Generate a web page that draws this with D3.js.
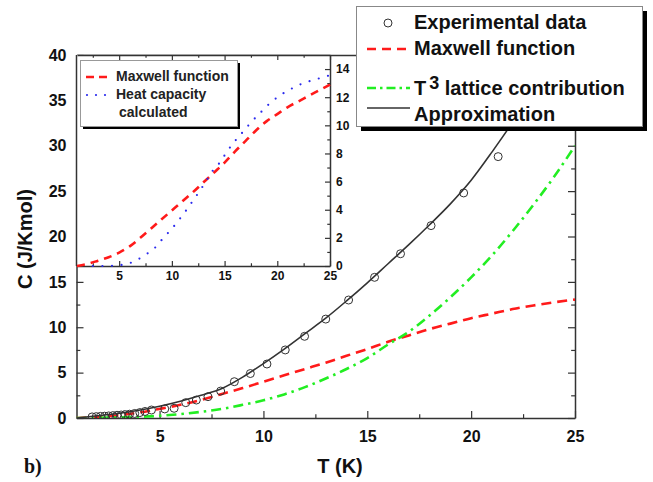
<!DOCTYPE html>
<html><head><meta charset="utf-8">
<script src="https://cdn.jsdelivr.net/npm/d3@7"></script>
<style>
body{margin:0;background:#fff;}
svg{display:block;font-family:"Liberation Sans",Arial,sans-serif;font-weight:bold;}
</style></head>
<body><svg id="c" width="653" height="482"></svg>
<script>
// ---------- data ----------
const tGrid = [1,2,3,4,5,6,7,8,9,10,11,12,13,14,15,16,17,18,19,20,21,22,23,24,25];
const maxwellMain = [0,0.1,0.3,0.6,1.0,1.45,2.0,2.65,3.3,4.0,4.7,5.4,6.1,6.85,7.6,8.4,9.1,9.8,10.4,11.0,11.5,12.0,12.4,12.75,13.05];
const latticeT3 = [0,0.02,0.06,0.13,0.25,0.43,0.68,1.0,1.45,1.95,2.6,3.4,4.35,5.4,6.6,8.1,9.5,11.3,13.3,15.5,17.9,20.6,23.5,26.6,30.0];
const approximation = [0,0.25,0.5,0.85,1.3,1.85,2.5,3.25,4.5,6.0,7.6,9.3,11.0,12.9,14.9,17.0,19.1,21.3,23.6,26.2,29.3,32.6,36.2,40.0,44.0];
const expT = [1.75,1.95,2.15,2.35,2.55,2.75,2.95,3.15,3.35,3.55,3.8,4.05,4.3,4.61,5.25,5.7,6.26,6.77,7.33,7.94,8.6,9.37,10.17,11.05,11.98,13.0,14.1,15.35,16.6,18.07,19.64,21.3];
const expC = [0.12,0.15,0.18,0.2,0.23,0.26,0.3,0.33,0.37,0.42,0.5,0.6,0.72,0.88,1.0,1.07,1.69,1.98,2.35,2.97,4.0,4.9,5.95,7.5,9.0,10.9,13.0,15.5,18.1,21.2,24.8,28.8];
const insetMaxwell = [0,0.15,0.38,0.62,0.95,1.4,2.0,2.65,3.3,3.95,4.6,5.25,5.95,6.65,7.35,8.15,8.9,9.65,10.3,10.8,11.3,11.7,12.1,12.5,12.9];
const heatCalcT = [2.5,3.5,4.9,5.8,6.6,7.5,8.4,9.2,10.0,10.8,11.4,12.05,12.7,13.3,13.9,14.6,15.2,15.9,16.7,17.5,18.4,19.2,20.2,21.1,22.0,22.9,23.8,24.7,25];
const heatCalcC = [0,0,0.05,0.15,0.4,0.8,1.3,2.0,2.65,3.4,4.0,4.7,5.4,6.1,6.8,7.4,8.1,8.8,9.5,10.2,10.9,11.5,12.1,12.5,12.85,13.1,13.3,13.5,13.55];
const xMajor = [5,10,15,20,25], xMinor = [2.5,7.5,12.5,17.5,22.5];
const yMajor = [0,5,10,15,20,25,30,35,40], yMinor = [2.5,7.5,12.5,17.5,22.5,27.5,32.5,37.5];
const iyMajor = [0,2,4,6,8,10,12,14], iyMinor = [1,3,5,7,9,11,13];
const legendLabels = ["Experimental data","Maxwell function","lattice contribution","Approximation"];
const insetLegendLabels = ["Maxwell function","Heat capacity","calculated"];

// ---------- setup ----------
const svg = d3.select("#c");
const x = d3.scaleLinear([1,25],[76.5,575]);
const y = d3.scaleLinear([0,40],[418,55]);
const ix = d3.scaleLinear([1,25],[77,330]);
const iy = d3.scaleLinear([0,15],[266,55]);
const AX = "#333";

svg.append("defs").append("clipPath").attr("id","mainclip")
  .append("rect").attr("x",76.5).attr("y",55).attr("width",498.5).attr("height",363);

function styleAxis(g){
  g.selectAll(".domain").attr("stroke",AX).attr("stroke-width",1.5);
  g.selectAll(".tick line").attr("stroke",AX).attr("stroke-width",1.2);
  g.selectAll(".tick text").attr("fill","#111").style("font-family","'Liberation Sans',Arial,sans-serif").style("font-weight","bold");
}
function axisPair(gen, scale, major, minor, len, fmt, fs, pad){
  const g = svg.append("g");
  const gMin = g.append("g").call(gen(scale).tickValues(minor).tickSizeInner(-len*0.55).tickSizeOuter(0).tickFormat(""));
  const gMaj = g.append("g").call(gen(scale).tickValues(major).tickSizeInner(-len).tickSizeOuter(0).tickFormat(fmt).tickPadding(pad||8));
  gMin.select(".domain").remove();
  styleAxis(gMaj); styleAxis(gMin);
  gMaj.selectAll(".tick text").attr("font-size",fs||16);
  return {g,gMaj,gMin};
}

// ---------- main axes ----------
let a;
a = axisPair(d3.axisBottom, x, xMajor, xMinor, 7, d3.format("d"), 16, 13); a.g.attr("transform","translate(0,418)");
a = axisPair(d3.axisTop, x, xMajor, xMinor, 7, ""); a.g.attr("transform","translate(0,55)");
a = axisPair(d3.axisLeft, y, yMajor, yMinor, 7, d3.format("d"), 16, 10); a.g.attr("transform","translate(76.5,0)");
a = axisPair(d3.axisRight, y, yMajor, yMinor, 7, ""); a.g.attr("transform","translate(575,0)");

// ---------- main curves ----------
const plot = svg.append("g").attr("clip-path","url(#mainclip)");
const line = (sx,sy)=>d3.line().x(d=>sx(d[0])).y(d=>sy(d[1])).curve(d3.curveMonotoneX);
plot.append("path").datum(tGrid.map((t,i)=>[t,maxwellMain[i]]))
  .attr("d",line(x,y)).attr("fill","none").attr("stroke","#ff1a1a").attr("stroke-width",2.6).attr("stroke-dasharray","10,6");
plot.append("path").datum(tGrid.map((t,i)=>[t,latticeT3[i]]))
  .attr("d",line(x,y)).attr("fill","none").attr("stroke","#22ee22").attr("stroke-width",2.6).attr("stroke-dasharray","10,5,2.5,5");
plot.append("path").datum(tGrid.map((t,i)=>[t,approximation[i]]))
  .attr("d",line(x,y)).attr("fill","none").attr("stroke","#333").attr("stroke-width",1.6);
plot.selectAll("circle.exp").data(expT.map((t,i)=>[t,expC[i]])).join("circle").attr("class","exp")
  .attr("cx",d=>x(d[0])).attr("cy",d=>y(d[1])).attr("r",4).attr("fill","none").attr("stroke","#333").attr("stroke-width",1);

// ---------- inset ----------
svg.append("rect").attr("x",77).attr("y",55).attr("width",253).attr("height",211).attr("fill","#fff");
a = axisPair(d3.axisBottom, ix, xMajor, xMinor, 5, d3.format("d"), 12, 5); a.g.attr("transform","translate(0,266)");
a = axisPair(d3.axisTop, ix, xMajor, xMinor, 5, ""); a.g.attr("transform","translate(0,55)");
a = axisPair(d3.axisRight, iy, iyMajor, iyMinor, 5, d3.format("d"), 12, 6); a.g.attr("transform","translate(330,0)");
svg.append("line").attr("x1",76.5).attr("x2",76.5).attr("y1",55).attr("y2",266).attr("stroke",AX).attr("stroke-width",1.5);
const inset = svg.append("g");
inset.append("path").datum(tGrid.map((t,i)=>[t,insetMaxwell[i]]))
  .attr("d",line(ix,iy)).attr("fill","none").attr("stroke","#ff1a1a").attr("stroke-width",2.6).attr("stroke-dasharray","8,6");
inset.append("path").datum(heatCalcT.map((t,i)=>[t,heatCalcC[i]]))
  .attr("d",line(ix,iy)).attr("fill","none").attr("stroke","#2a2aee").attr("stroke-width",2.2)
  .attr("stroke-linecap","round").attr("stroke-dasharray","0,9.6");

// inset legend
svg.append("rect").attr("x",83).attr("y",63).attr("width",157).attr("height",66).attr("fill","#000");
svg.append("rect").attr("x",80.5).attr("y",60.5).attr("width",157).attr("height",66).attr("fill","#fff").attr("stroke","#999").attr("stroke-width",1);
svg.append("line").attr("x1",86).attr("x2",110).attr("y1",77).attr("y2",77).attr("stroke","#ff1a1a").attr("stroke-width",2.6).attr("stroke-dasharray","8,5");
svg.append("line").attr("x1",87).attr("x2",110).attr("y1",95).attr("y2",95).attr("stroke","#2a2aee").attr("stroke-width",2.2).attr("stroke-linecap","round").attr("stroke-dasharray","0,9");
svg.append("text").attr("x",116).attr("y",81).attr("font-size",14).attr("fill","#222").text(insetLegendLabels[0]);
svg.append("text").attr("x",116).attr("y",99).attr("font-size",14).attr("fill","#222").text(insetLegendLabels[1]);
svg.append("text").attr("x",119).attr("y",117).attr("font-size",14).attr("fill","#222").text(insetLegendLabels[2]);

// ---------- main legend ----------
svg.append("rect").attr("x",361).attr("y",11).attr("width",286).attr("height",120).attr("fill","#000");
svg.append("rect").attr("x",356.5).attr("y",6.5).attr("width",286).attr("height",120).attr("fill","#fff").attr("stroke","#888").attr("stroke-width",1);
svg.append("circle").attr("cx",388).attr("cy",23).attr("r",4).attr("fill","none").attr("stroke","#333").attr("stroke-width",1);
svg.append("line").attr("x1",367).attr("x2",410).attr("y1",49).attr("y2",49).attr("stroke","#ff1a1a").attr("stroke-width",2.6).attr("stroke-dasharray","9,6");
svg.append("line").attr("x1",367).attr("x2",410).attr("y1",88).attr("y2",88).attr("stroke","#22ee22").attr("stroke-width",2.6).attr("stroke-dasharray","9,4,2.5,4");
svg.append("line").attr("x1",367).attr("x2",410).attr("y1",108).attr("y2",108).attr("stroke","#333").attr("stroke-width",1.6);
const lg = svg.append("g").attr("font-size",20).attr("fill","#111");
lg.append("text").attr("x",414).attr("y",29).text(legendLabels[0]);
lg.append("text").attr("x",414).attr("y",55).text(legendLabels[1]);
const t3 = lg.append("text").attr("x",414).attr("y",95);
t3.append("tspan").text("T");
t3.append("tspan").attr("dx",3).attr("dy",-6).attr("font-size",18).text("3");
t3.append("tspan").attr("dy",6).text(" " + legendLabels[2]);
lg.append("text").attr("x",414).attr("y",120.5).text(legendLabels[3]);

// ---------- titles ----------
svg.append("text").attr("x",340).attr("y",473).attr("text-anchor","middle").attr("font-size",20).attr("fill","#111").text("T (K)");
svg.append("text").attr("transform","translate(32,239) rotate(-90)").attr("text-anchor","middle").attr("font-size",20).attr("fill","#111").text("C (J/Kmol)");
svg.append("text").attr("x",24).attr("y",473).attr("font-size",20).attr("fill","#111")
  .style("font-family","'Liberation Serif','Times New Roman',serif").text("b)");
</script></body></html>
